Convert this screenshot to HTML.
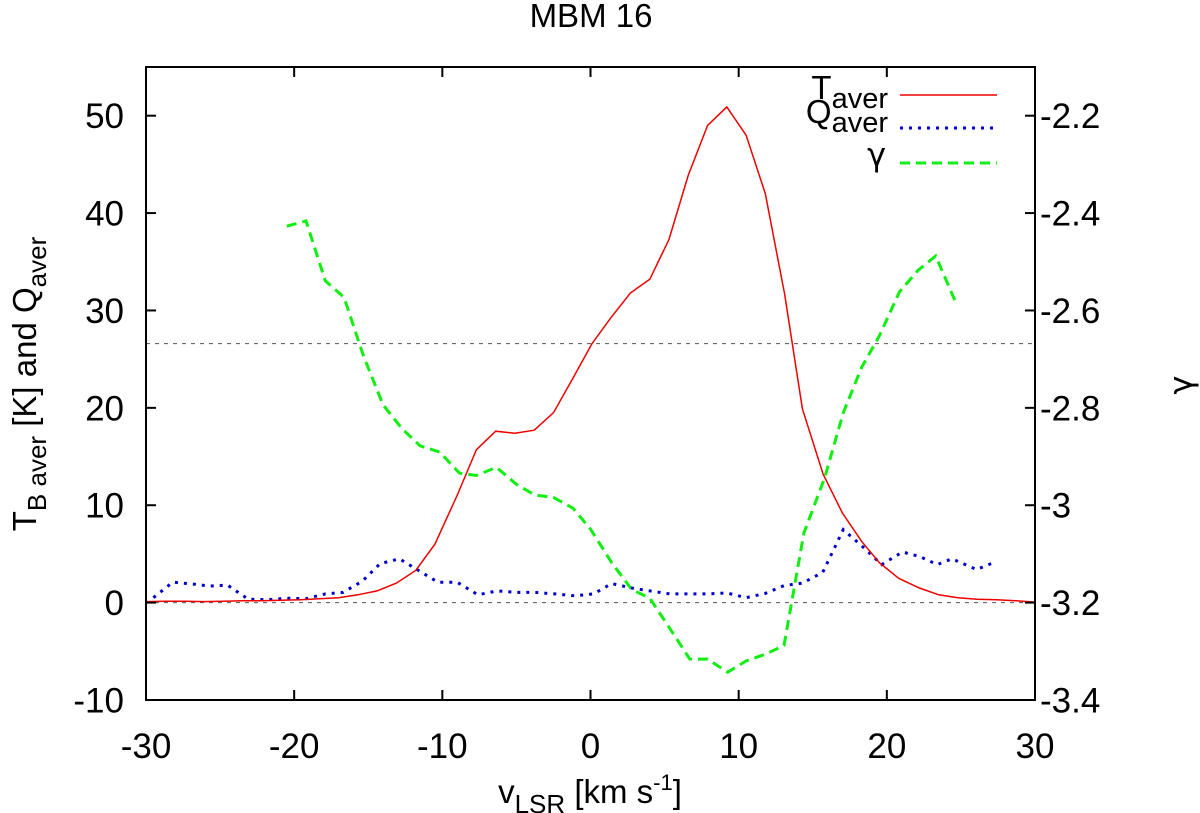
<!DOCTYPE html>
<html><head><meta charset="utf-8"><style>
body{margin:0;background:#fff;}
svg{display:block;font-family:"Liberation Sans",sans-serif;}
.g{font-family:"DejaVu Sans",sans-serif;}
</style></head><body>
<svg id="chart" width="1200" height="813" viewBox="0 0 1200 813">
<text x="591" y="27" font-size="33" text-anchor="middle">MBM 16</text>
<g id="grid"></g>
<g id="series"></g>
<rect x="146" y="67" width="889" height="633" fill="none" stroke="#000" stroke-width="2"/>
<g id="ticks"></g>
<text transform="translate(36,384) rotate(-90)" font-size="33" text-anchor="middle">T<tspan dy="10" font-size="26">B aver</tspan><tspan dy="-10"> [K] and Q</tspan><tspan dy="10" font-size="26">aver</tspan></text>
<text class="g" transform="translate(1192,385) rotate(-90)" font-size="32" text-anchor="middle">γ</text>
<text x="590" y="803" font-size="33" text-anchor="middle">v<tspan dy="10" font-size="26">LSR</tspan><tspan dy="-10"> [km s</tspan><tspan dy="-13" font-size="22">-1</tspan><tspan dy="13">]</tspan></text>
<g>
<text x="888" y="99" font-size="33" text-anchor="end">T<tspan dy="9" font-size="29">aver</tspan></text>
<line x1="900" y1="95" x2="997" y2="95" stroke="#e00" stroke-width="1.5"/>
<text x="888" y="123" font-size="33" text-anchor="end">Q<tspan dy="9" font-size="29">aver</tspan></text>
<line x1="900" y1="128" x2="997" y2="128" stroke="#00c" stroke-width="3" stroke-dasharray="3,6"/>
<text class="g" x="886" y="166" font-size="32" text-anchor="end">γ</text>
<line x1="900" y1="163" x2="997" y2="163" stroke="#1e1" stroke-width="3" stroke-dasharray="10,6"/>
</g>
</svg>
<script>
const tX=[-30,-28.7,-27.4,-26.1,-24.8,-23.5,-22.2,-20.9,-19.6,-18.3,-17,-15.7,-14.4,-13.1,-11.8,-10.5,-9.0,-7.7,-6.4,-5.1,-3.8,-2.5,-1.2,0.1,1.4,2.7,4.0,5.3,6.6,7.9,9.2,10.5,11.8,13.1,14.3,15.7,17,18.3,19.5,20.8,22.2,23.5,24.8,26.1,27.4,28.7,30];
const tY=[0.1,0.15,0.15,0.1,0.15,0.2,0.2,0.25,0.3,0.4,0.5,0.8,1.2,2.0,3.3,6,11,15.7,17.6,17.4,17.7,19.5,23,26.6,29.3,31.8,33.2,37.3,43.9,49.0,50.9,48,42,31.7,19.9,13.2,9.2,6.3,4.1,2.5,1.5,0.8,0.5,0.35,0.3,0.2,0.05];
const qX=[-29.5,-28.2,-26.8,-25.7,-24.5,-23.1,-21.8,-20.5,-19.2,-17.9,-16.7,-15.4,-14.2,-12.9,-11.6,-10.3,-9.0,-7.6,-6.3,-5.0,-3.75,-2.4,-1.05,0.2,1.43,2.78,4.0,5.35,6.7,7.9,9.2,10.5,11.8,13.06,14.3,15.67,17.06,18.4,19.65,21.06,22.2,23.4,24.4,26.05,27.2];
const qY=[0.5,2.1,1.9,1.7,1.8,0.35,0.3,0.45,0.4,0.9,1.05,2.2,4.0,4.5,3.3,2.1,2.1,0.8,1.2,1.05,1.05,0.9,0.7,0.9,1.95,1.5,1.2,0.9,0.9,0.9,1.0,0.5,0.95,1.75,2.0,3.1,7.5,5.7,3.9,5.2,4.75,3.9,4.5,3.4,4.1];
const gX=[-20.5,-19.2,-17.9,-16.64,-15.33,-14.0,-12.74,-11.5,-10.16,-8.85,-7.7,-6.35,-5.0,-3.76,-2.5,-1.18,0.0,1.43,2.78,4.0,5.37,6.7,7.9,9.25,10.5,11.8,13.06,14.4,15.8,17.06,18.3,19.5,20.85,22.1,23.3,24.6];
const gY=[-2.427,-2.416,-2.539,-2.573,-2.693,-2.794,-2.842,-2.878,-2.891,-2.934,-2.939,-2.922,-2.957,-2.979,-2.984,-3.006,-3.049,-3.118,-3.173,-3.191,-3.254,-3.316,-3.316,-3.343,-3.32,-3.306,-3.288,-3.057,-2.944,-2.81,-2.717,-2.652,-2.562,-2.518,-2.488,-2.58];
const xTicks=[-30,-20,-10,0,10,20,30];
const yTicks=[-10,0,10,20,30,40,50];
const y2Ticks=[-3.4,-3.2,-3,-2.8,-2.6,-2.4,-2.2];
const y2Labels=["-3.4","-3.2","-3","-2.8","-2.6","-2.4","-2.2"];
const refLevels=[0,26.6];

const NS="http://www.w3.org/2000/svg";
const L=146,R=1035,T=67,B=700;
const sx=v=>L+(v+30)/60*(R-L);
const sy=v=>B-(v+10)/65*(B-T);
const sy2=v=>B-(v+3.4)/1.3*(B-T);
function mk(tag,attrs,parent){const e=document.createElementNS(NS,tag);for(const k in attrs)e.setAttribute(k,attrs[k]);parent.appendChild(e);return e;}
const grid=document.getElementById('grid'),ser=document.getElementById('series'),tk=document.getElementById('ticks');
refLevels.forEach(v=>{
 const e=mk('line',{x1:L,x2:R,y1:sy(v),y2:sy(v),stroke:'#555','stroke-width':1,'stroke-dasharray':'4,5'},grid);
 
 
});
function poly(xs,ys,f,attrs,name){
 const pts=xs.map((x,i)=>sx(x).toFixed(1)+','+f(ys[i]).toFixed(1)).join(' ');
 const e=mk('polyline',Object.assign({points:pts,fill:'none'},attrs),ser);
 
 
}
poly(gX,gY,sy2,{stroke:'#1e1','stroke-width':3,'stroke-dasharray':'10,6'},'gamma-line');
poly(qX,qY,sy,{stroke:'#00c','stroke-width':3,'stroke-dasharray':'3,6'},'q-aver-line');
poly(tX,tY,sy,{stroke:'#e00','stroke-width':1.5},'t-aver-line');
xTicks.forEach(v=>{
 const x=sx(v);
 mk('line',{x1:x,x2:x,y1:B,y2:B-10,stroke:'#000','stroke-width':2},tk);
 mk('line',{x1:x,x2:x,y1:T,y2:T+10,stroke:'#000','stroke-width':2},tk);
 const t=mk('text',{x:x,y:758,'font-size':35,'text-anchor':'middle'},tk);t.textContent=v;
 
 
});
yTicks.forEach(v=>{
 const y=sy(v);
 mk('line',{x1:L,x2:L+10,y1:y,y2:y,stroke:'#000','stroke-width':2},tk);
 const t=mk('text',{x:124,y:y+12.5,'font-size':35,'text-anchor':'end'},tk);t.textContent=v;
 
 
});
y2Ticks.forEach((v,i)=>{
 const y=sy2(v);
 mk('line',{x1:R-10,x2:R,y1:y,y2:y,stroke:'#000','stroke-width':2},tk);
 const t=mk('text',{x:1040,y:y+12.5,'font-size':35,'text-anchor':'start'},tk);t.textContent=y2Labels[i];
 
 
});
</script>
</body></html>
